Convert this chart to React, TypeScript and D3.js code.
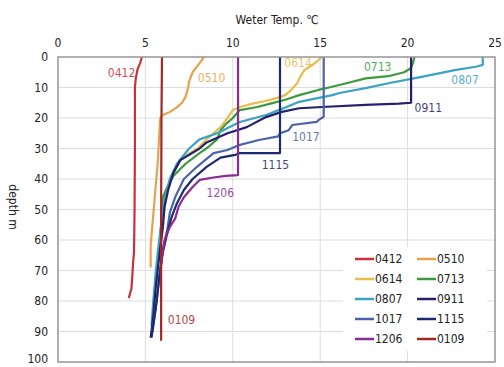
import React from 'react';
import * as d3 from 'd3';

// temperature (°C), depth (m) pairs read from each profile
const s0412: [number, number][] = [[4.8, 0], [4.7, 2], [4.55, 4], [4.45, 7], [4.4, 10], [4.4, 30], [4.38, 50], [4.35, 64], [4.3, 67], [4.25, 72], [4.2, 76], [4.1, 78], [4.05, 79]];
const s0510: [number, number][] = [[8.35, 0], [8.1, 2], [7.9, 3.5], [7.7, 5], [7.5, 8], [7.45, 10], [7.3, 13], [7.1, 15], [6.8, 16.5], [6.4, 18], [6.0, 19], [5.85, 20], [5.8, 25], [5.7, 35], [5.55, 45], [5.4, 55], [5.3, 62], [5.3, 69]];
const s0614: [number, number][] = [[15.1, 0], [14.8, 1.5], [14.5, 2.8], [14.1, 4.3], [13.8, 7], [13.7, 8.5], [13.3, 11], [13.0, 12.5], [12.5, 13.5], [11.8, 14.5], [11.2, 15.2], [10.4, 16.4], [10.0, 17.4], [9.7, 20], [9.3, 23], [8.9, 25], [8.5, 27], [8.0, 30], [7.1, 33], [6.8, 36], [6.4, 40], [6.2, 44], [6.0, 50], [5.9, 58], [5.85, 65]];
const s0713: [number, number][] = [[20.4, 0], [20.3, 2], [20.2, 3.6], [19.8, 5], [18.9, 6.3], [17.6, 7], [16.5, 8.6], [15.5, 10], [14.9, 10.8], [13.8, 12.5], [13.0, 14], [12.2, 15.2], [11.4, 16.4], [10.4, 17.4], [10.0, 20], [9.6, 22], [9.3, 24], [9.1, 27], [8.6, 29.5], [8.1, 31.5], [7.3, 35], [6.6, 39], [6.25, 42.6], [6.0, 46], [5.9, 55], [5.75, 65], [5.6, 75]];
const s0807: [number, number][] = [[24.3, 0], [24.3, 2.6], [23.9, 3.2], [22.7, 4.3], [20.8, 6.5], [18.9, 8.6], [17.6, 10.2], [16.1, 11.8], [15.7, 12.5], [13.8, 14.7], [12.9, 16.8], [11.9, 19], [10.4, 21.3], [9.1, 25], [8.1, 27], [7.5, 30], [6.8, 35], [6.4, 40], [6.1, 47], [5.9, 55], [5.75, 62], [5.6, 70], [5.45, 80], [5.35, 88]];
const s0911: [number, number][] = [[20.2, 0], [20.2, 15], [19.5, 15.3], [17.6, 15.7], [15.1, 16.4], [13.8, 16.8], [12.8, 18], [11.9, 19.7], [10.8, 23], [9.7, 25], [8.5, 28], [8.1, 30], [7.0, 33.8], [6.6, 38], [6.3, 43.6], [6.1, 49], [6.0, 55.7], [5.8, 65], [5.6, 75], [5.45, 85], [5.3, 92]];
const s1017: [number, number][] = [[15.2, 0], [15.2, 19.6], [14.9, 20.7], [14.8, 21.3], [13.4, 22.3], [13.2, 24], [12.7, 25], [12.6, 26], [11.5, 27.2], [10.4, 28.8], [9.7, 30.5], [8.9, 31.5], [7.95, 36], [7.2, 40], [6.7, 46], [6.4, 51], [6.25, 56.7], [6.0, 63], [5.8, 72], [5.6, 82], [5.4, 90]];
const s1115: [number, number][] = [[12.7, 0], [12.7, 31.5], [10.4, 31.5], [10.2, 32], [9.3, 33], [8.5, 36], [7.7, 40], [7.2, 43.6], [6.8, 48], [6.5, 52.5], [6.25, 57.7], [6.0, 64], [5.8, 72], [5.6, 82], [5.35, 92]];
const s1206: [number, number][] = [[10.3, 0], [10.3, 38.7], [9.6, 39], [8.9, 39.5], [8.1, 40.3], [7.7, 42.6], [7.2, 46], [6.9, 49], [6.7, 53], [6.4, 55.7], [6.1, 60], [5.95, 65], [5.85, 70]];
const s0109: [number, number][] = [[5.95, 0], [5.92, 20], [5.9, 50], [5.9, 93]];

const names = ['0412', '0510', '0614', '0713', '0807', '0911', '1017', '1115', '1206', '0109'];
const profiles = [s0412, s0510, s0614, s0713, s0807, s0911, s1017, s1115, s1206, s0109];
const colors = ['#c8323c', '#e9a04e', '#e8bc48', '#3c9a3c', '#3aa2c2', '#24206e', '#4a64a8', '#1c2a70', '#8c2a94', '#a02828'];
// where each series name sits, in temp / depth units
const labelAt: [number, number][] = [[2.85, 5.2], [8.0, 6.9], [12.95, 2.0], [17.5, 3.3], [22.5, 7.5], [20.4, 16.7], [13.4, 26.2], [11.65, 35.4], [8.5, 44.6], [6.28, 86.2]];

const xTicks = [0, 5, 10, 15, 20, 25];
const yTicks = [0, 10, 20, 30, 40, 50, 60, 70, 80, 90, 100];

const W = 504;
const H = 367;
const font = "'DejaVu Sans Condensed', 'Liberation Sans Narrow', 'DejaVu Sans', sans-serif";

export default function App() {
  const x = d3.scaleLinear().domain([0, 25]).range([58, 495]);
  const y = d3.scaleLinear().domain([0, 100]).range([57, 362]);
  const line = d3.line<[number, number]>().x(d => x(d[0])).y(d => y(d[1]));

  const legX = [355, 417];
  const legY0 = 259;

  return (
    <svg width={W} height={H} style={{ position: 'absolute', left: 0, top: 0, background: '#fff' }} fontFamily={font}>
      {/* grid */}
      {xTicks.map(t => (
        <line key={'gx' + t} x1={x(t)} x2={x(t)} y1={y(0)} y2={y(100)} stroke="#dcdcdc" strokeWidth={1} />
      ))}
      {yTicks.map(t => (
        <line key={'gy' + t} x1={x(0)} x2={x(25)} y1={y(t)} y2={y(t)} stroke="#dcdcdc" strokeWidth={1} />
      ))}

      {/* legend background hides the grid */}
      <rect x={343} y={247} width={144} height={104} fill="#fff" />

      {/* profiles */}
      {profiles.map((p, i) => (
        <path key={names[i]} d={line(p) || ''} fill="none" stroke={colors[i]} strokeWidth={2.2} strokeLinejoin="round" />
      ))}

      {/* series labels */}
      {names.map((n, i) => (
        <text key={'lb' + n} x={x(labelAt[i][0])} y={y(labelAt[i][1])} dy="0.35em" fontSize={12} fill={colors[i]} opacity={0.85}>{n}</text>
      ))}

      {/* frame */}
      <rect x={x(0)} y={y(0)} width={x(25) - x(0)} height={y(100) - y(0)} fill="none" stroke="#9a9a9a" strokeWidth={1.5} />

      {/* axes labels */}
      {xTicks.map(t => (
        <text key={'tx' + t} x={x(t)} y={43} dy="0.35em" textAnchor="middle" fontSize={12} fill="#222">{t}</text>
      ))}
      {yTicks.map(t => (
        <text key={'ty' + t} x={48} y={Math.min(y(t), 359)} dy="0.35em" textAnchor="end" fontSize={12} fill="#222">{t}</text>
      ))}
      <text x={277} y={20} dy="0.35em" textAnchor="middle" fontSize={12} fill="#222">Weter Temp. ℃</text>
      <text transform={`translate(13,${207}) rotate(90)`} textAnchor="middle" dy="0.35em" fontSize={12} fill="#222">depth m</text>

      {/* legend */}
      {names.map((n, i) => {
        const cx = legX[i % 2];
        const cy = legY0 + Math.floor(i / 2) * 20;
        return (
          <g key={'lg' + n}>
            <line x1={cx} x2={cx + 19} y1={cy} y2={cy} stroke={colors[i]} strokeWidth={2.5} />
            <text x={cx + 20} y={cy} dy="0.35em" fontSize={12} fill="#222">{n}</text>
          </g>
        );
      })}
    </svg>
  );
}
